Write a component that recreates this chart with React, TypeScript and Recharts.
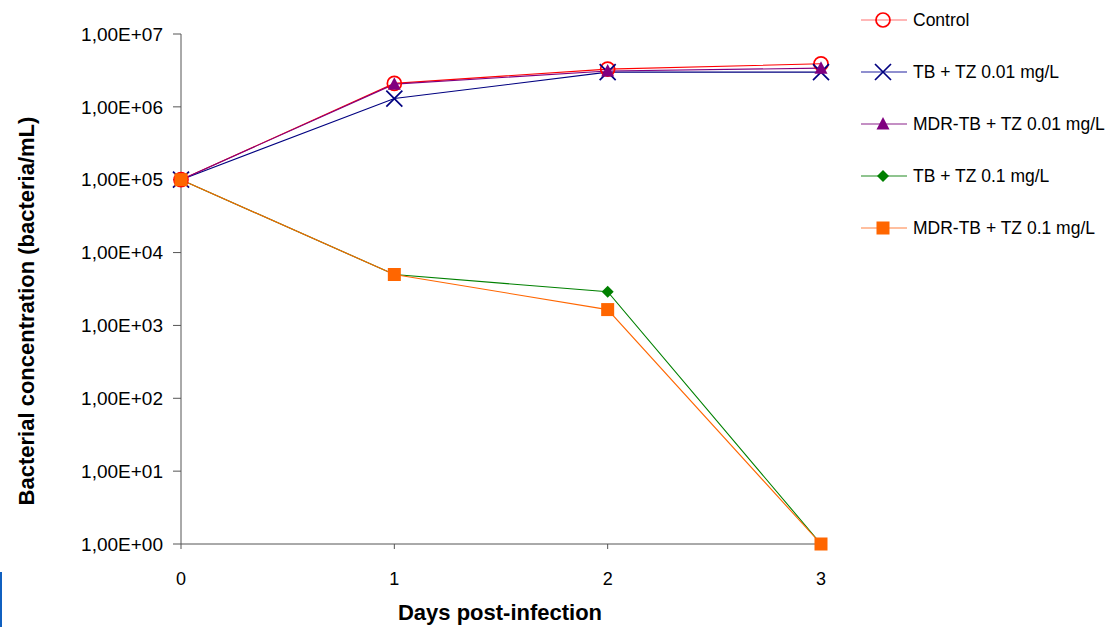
import React from 'react';
import { LineChart, Line, XAxis, YAxis } from 'recharts';

const days = [0, 1, 2, 3];
const control = [1e5, 2.1e6, 3.3e6, 3.9e6];
const tb001 = [1e5, 1.3e6, 3.0e6, 3.0e6];
const mdr001 = [1e5, 2.05e6, 3.1e6, 3.4e6];
const tb01 = [1e5, 5.0e3, 2.9e3, 1];
const mdr01 = [1e5, 5.0e3, 1.65e3, 1];
const yTicks = [1, 10, 100, 1e3, 1e4, 1e5, 1e6, 1e7];

const data = days.map((d, i) => ({
  day: d,
  control: control[i],
  tb001: tb001[i],
  mdr001: mdr001[i],
  tb01: tb01[i],
  mdr01: mdr01[i],
}));

type Shape = 'circle' | 'cross' | 'triangle' | 'diamond' | 'square';

interface SeriesConfig {
  key: string;
  label: string;
  color: string;
  legendLine: string;
  shape: Shape;
}

const series: SeriesConfig[] = [
  { key: 'control', label: 'Control', color: '#ff0000', legendLine: '#ff7070', shape: 'circle' },
  { key: 'tb001', label: 'TB + TZ 0.01 mg/L', color: '#000080', legendLine: '#2020a0', shape: 'cross' },
  { key: 'mdr001', label: 'MDR-TB + TZ 0.01 mg/L', color: '#800080', legendLine: '#8a208a', shape: 'triangle' },
  { key: 'tb01', label: 'TB + TZ 0.1 mg/L', color: '#008000', legendLine: '#208a20', shape: 'diamond' },
  { key: 'mdr01', label: 'MDR-TB + TZ 0.1 mg/L', color: '#ff6600', legendLine: '#ff8040', shape: 'square' },
];

const FONT = 'Liberation Sans, Arial, sans-serif';

function Marker({ shape, color, cx, cy }: { shape: Shape; color: string; cx: number; cy: number }) {
  switch (shape) {
    case 'circle':
      return <circle cx={cx} cy={cy} r={7} fill="none" stroke={color} strokeWidth={1.7} />;
    case 'cross':
      return (
        <path
          d={`M${cx - 8},${cy - 8}L${cx + 8},${cy + 8}M${cx - 8},${cy + 8}L${cx + 8},${cy - 8}`}
          stroke={color}
          strokeWidth={1.7}
        />
      );
    case 'triangle':
      return <path d={`M${cx},${cy - 7}L${cx + 6.5},${cy + 5.5}L${cx - 6.5},${cy + 5.5}Z`} fill={color} />;
    case 'diamond':
      return <path d={`M${cx},${cy - 6}L${cx + 6},${cy}L${cx},${cy + 6}L${cx - 6},${cy}Z`} fill={color} />;
    default:
      return <rect x={cx - 6.5} y={cy - 6.5} width={13} height={13} fill={color} />;
  }
}

const fmtSci = (v: number) => {
  const exp = Math.round(Math.log10(v));
  const mant = (v / Math.pow(10, exp)).toFixed(2).replace('.', ',');
  return `${mant}E+${String(exp).padStart(2, '0')}`;
};

function LegendBox() {
  return (
    <div
      style={{
        position: 'absolute',
        left: 861,
        top: -6,
        fontFamily: FONT,
        fontSize: 17.5,
        color: '#000',
      }}
    >
      {series.map(s => (
        <div key={s.key} style={{ display: 'flex', alignItems: 'center', height: 52 }}>
          <svg width={46} height={20} style={{ overflow: 'visible' }}>
            <line x1={0} y1={10} x2={46} y2={10} stroke={s.legendLine} strokeWidth={1.2} />
            <Marker shape={s.shape} color={s.color} cx={22} cy={10} />
          </svg>
          <span style={{ marginLeft: 6, whiteSpace: 'nowrap' }}>{s.label}</span>
        </div>
      ))}
    </div>
  );
}

export default function App() {
  return (
    <div
      style={{
        position: 'absolute',
        left: 0,
        top: 0,
        width: 1105,
        height: 627,
        background: '#fff',
        overflow: 'hidden',
      }}
    >
      <div style={{ position: 'absolute', left: 0, top: 572, width: 2, height: 55, background: '#1060c0' }} />
      <LineChart
        width={1105}
        height={627}
        data={data}
        margin={{ top: 34, right: 284, left: 81, bottom: 53 }}
      >
        <XAxis
          dataKey="day"
          type="number"
          domain={[0, 3]}
          ticks={days}
          tick={{ fontSize: 18, fill: '#000', fontFamily: FONT }}
          tickSize={5}
          tickMargin={23}
          stroke="#555"
          height={30}
          label={{
            content: () => (
              <text
                x={500}
                y={620}
                textAnchor="middle"
                fontSize={22}
                fontWeight="bold"
                fontFamily={FONT}
                fill="#000"
              >
                Days post-infection
              </text>
            ),
          }}
        />
        <YAxis
          scale="log"
          domain={[1, 1e7]}
          ticks={yTicks}
          tickFormatter={fmtSci}
          tick={{ fontSize: 19, fill: '#000', fontFamily: FONT }}
          tickSize={8}
          tickMargin={10}
          stroke="#555"
          width={100}
          label={{
            content: () => (
              <text
                x={34}
                y={311}
                transform="rotate(-90 34 311)"
                textAnchor="middle"
                fontSize={22}
                fontWeight="bold"
                fontFamily={FONT}
                fill="#000"
              >
                Bacterial concentration (bacteria/mL)
              </text>
            ),
          }}
        />
        {series.map(s => (
          <Line
            key={s.key}
            type="linear"
            dataKey={s.key}
            stroke={s.color}
            strokeWidth={1.1}
            isAnimationActive={false}
            dot={(p: any) => (
              <Marker key={`${s.key}-${p.index}`} shape={s.shape} color={s.color} cx={p.cx} cy={p.cy} />
            )}
            activeDot={false}
          />
        ))}
      </LineChart>
      <LegendBox />
    </div>
  );
}
